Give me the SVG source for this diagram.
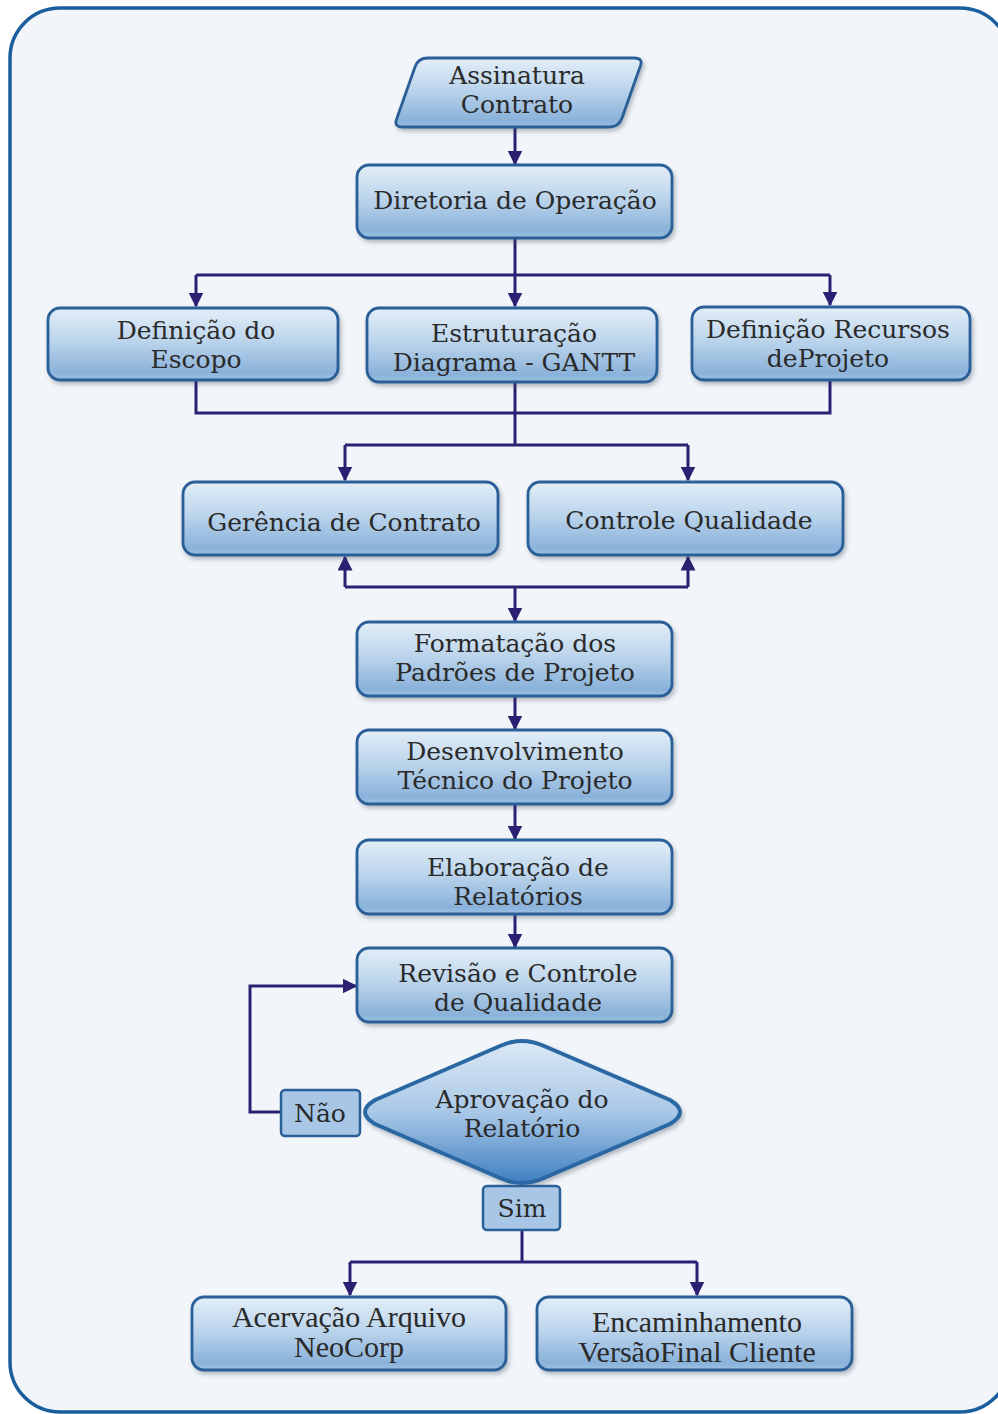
<svg xmlns="http://www.w3.org/2000/svg" width="998" height="1414" viewBox="0 0 998 1414">
  <defs>
    <linearGradient id="boxFill" x1="0" y1="0" x2="0" y2="1">
      <stop offset="0" stop-color="#e3eef8"/>
      <stop offset="0.45" stop-color="#bcd5ec"/>
      <stop offset="0.9" stop-color="#8ab2da"/>
      <stop offset="1" stop-color="#9cc0e3"/>
    </linearGradient>
    <linearGradient id="diamondFill" x1="0" y1="0" x2="0" y2="1">
      <stop offset="0" stop-color="#dbe8f5"/>
      <stop offset="0.5" stop-color="#a9c8e7"/>
      <stop offset="1" stop-color="#3f7fc2"/>
    </linearGradient>
    <filter id="shadow" x="-10%" y="-20%" width="125%" height="150%">
      <feDropShadow dx="2" dy="3" stdDeviation="2" flood-color="#3a4a5a" flood-opacity="0.35"/>
    </filter>
    <marker id="arrow" viewBox="0 0 10 10" refX="9" refY="5" markerWidth="5" markerHeight="5" orient="auto" markerUnits="strokeWidth">
      <path d="M0,0 L10,5 L0,10 z" fill="#2b1f72"/>
    </marker>
    <style>
      .box { fill: url(#boxFill); stroke: #2a5f98; stroke-width: 2.8; filter: url(#shadow); }
      .tag { fill: #a8c7e6; stroke: #2a5f98; stroke-width: 2.5; }
      .lbl { font-family: "DejaVu Serif", "Liberation Serif", serif; font-size: 25px; fill: #2a2a2a; text-anchor: middle; }
      .lbl2 { font-family: "Liberation Serif", "DejaVu Serif", serif; font-size: 30px; fill: #2a2a2a; text-anchor: middle; }
      .wire { fill: none; stroke: #2b1f72; stroke-width: 3; }
      .arr { fill: none; stroke: #2b1f72; stroke-width: 3; marker-end: url(#arrow); }
    </style>
  </defs>

  <!-- page frame -->
  <rect x="10" y="8" width="1000" height="1404" rx="50" ry="50" fill="#f2f6fa" stroke="#1b5e9e" stroke-width="3.5"/>

  <!-- connectors -->
  <g id="connectors">
    <line class="arr" x1="515" y1="127" x2="515" y2="164"/>
    <polyline class="wire" points="515,238 515,275"/>
    <polyline class="wire" points="196,275 830,275"/>
    <line class="arr" x1="196" y1="275" x2="196" y2="306"/>
    <line class="arr" x1="515" y1="275" x2="515" y2="306"/>
    <line class="arr" x1="830" y1="275" x2="830" y2="305"/>
    <polyline class="wire" points="196,380 196,413 830,413 830,380"/>
    <polyline class="wire" points="515,382 515,445"/>
    <polyline class="wire" points="345,445 688,445"/>
    <line class="arr" x1="345" y1="445" x2="345" y2="480"/>
    <line class="arr" x1="688" y1="445" x2="688" y2="480"/>
    <polyline class="wire" points="345,587 688,587"/>
    <line class="arr" x1="345" y1="587" x2="345" y2="557"/>
    <line class="arr" x1="688" y1="587" x2="688" y2="557"/>
    <line class="arr" x1="515" y1="587" x2="515" y2="621"/>
    <line class="arr" x1="515" y1="696" x2="515" y2="729"/>
    <line class="arr" x1="515" y1="804" x2="515" y2="839"/>
    <line class="arr" x1="515" y1="914" x2="515" y2="947"/>
    <polyline class="arr" points="281,1112 250,1112 250,986 356,986"/>
    <polyline class="wire" points="522,1230 522,1262"/>
    <polyline class="wire" points="350,1262 697,1262"/>
    <line class="arr" x1="350" y1="1262" x2="350" y2="1295"/>
    <line class="arr" x1="697" y1="1262" x2="697" y2="1295"/>
  </g>

  <g id="assinatura-contrato">
    <path class="box" d="M428,58 L634,58 Q644,58 640,67 L622,118 Q619,127 609,127 L403,127 Q393,127 397,118 L415,67 Q418,58 428,58 z"/>
    <text class="lbl" x="517" y="84">Assinatura</text>
    <text class="lbl" x="517" y="113">Contrato</text>
  </g>

  <g id="diretoria-operacao">
    <rect class="box" x="357" y="165" width="315" height="73" rx="12"/>
    <text class="lbl" x="515" y="209">Diretoria de Operação</text>
  </g>

  <g id="definicao-escopo">
    <rect class="box" x="48" y="308" width="290" height="72" rx="12"/>
    <text class="lbl" x="196" y="339">Definição do</text>
    <text class="lbl" x="196" y="368">Escopo</text>
  </g>

  <g id="estruturacao-gantt">
    <rect class="box" x="367" y="308" width="290" height="74" rx="12"/>
    <text class="lbl" x="514" y="342">Estruturação</text>
    <text class="lbl" x="514" y="371">Diagrama - GANTT</text>
  </g>

  <g id="definicao-recursos">
    <rect class="box" x="692" y="307" width="278" height="73" rx="12"/>
    <text class="lbl" x="828" y="338">Definição Recursos</text>
    <text class="lbl" x="828" y="367">deProjeto</text>
  </g>

  <g id="gerencia-contrato">
    <rect class="box" x="183" y="482" width="315" height="73" rx="12"/>
    <text class="lbl" x="344" y="531">Gerência de Contrato</text>
  </g>

  <g id="controle-qualidade">
    <rect class="box" x="528" y="482" width="315" height="73" rx="12"/>
    <text class="lbl" x="689" y="529">Controle Qualidade</text>
  </g>

  <g id="formatacao-padroes">
    <rect class="box" x="357" y="622" width="315" height="74" rx="12"/>
    <text class="lbl" x="515" y="652">Formatação dos</text>
    <text class="lbl" x="515" y="681">Padrões de Projeto</text>
  </g>

  <g id="desenvolvimento-tecnico">
    <rect class="box" x="357" y="730" width="315" height="74" rx="12"/>
    <text class="lbl" x="515" y="760">Desenvolvimento</text>
    <text class="lbl" x="515" y="789">Técnico do Projeto</text>
  </g>

  <g id="elaboracao-relatorios">
    <rect class="box" x="357" y="840" width="315" height="74" rx="12"/>
    <text class="lbl" x="518" y="876">Elaboração de</text>
    <text class="lbl" x="518" y="905">Relatórios</text>
  </g>

  <g id="revisao-controle">
    <rect class="box" x="357" y="948" width="315" height="74" rx="12"/>
    <text class="lbl" x="518" y="982">Revisão e Controle</text>
    <text class="lbl" x="518" y="1011">de Qualidade</text>
  </g>

  <g id="aprovacao-relatorio">
    <path d="M375,1100 L500,1046 Q522,1036 544,1046 L670,1100 Q690,1112 670,1124 L544,1178 Q522,1188 500,1178 L375,1124 Q355,1112 375,1100 z" fill="url(#diamondFill)" stroke="#2c67a3" stroke-width="4" filter="url(#shadow)"/>
    <text class="lbl" x="522" y="1108">Aprovação do</text>
    <text class="lbl" x="522" y="1137">Relatório</text>
  </g>

  <g id="nao">
    <rect class="tag" x="281" y="1090" width="79" height="46" rx="4"/>
    <text class="lbl" x="320" y="1122">Não</text>
  </g>

  <g id="sim">
    <rect class="tag" x="483" y="1186" width="77" height="44" rx="4"/>
    <text class="lbl" x="522" y="1217">Sim</text>
  </g>

  <g id="acervacao-arquivo">
    <rect class="box" x="192" y="1297" width="314" height="73" rx="12"/>
    <text class="lbl2" x="349" y="1327">Acervação Arquivo</text>
    <text class="lbl2" x="349" y="1357">NeoCorp</text>
  </g>

  <g id="encaminhamento-versao">
    <rect class="box" x="537" y="1297" width="315" height="73" rx="12"/>
    <text class="lbl2" x="697" y="1332">Encaminhamento</text>
    <text class="lbl2" x="697" y="1362">VersãoFinal Cliente</text>
  </g>
</svg>
